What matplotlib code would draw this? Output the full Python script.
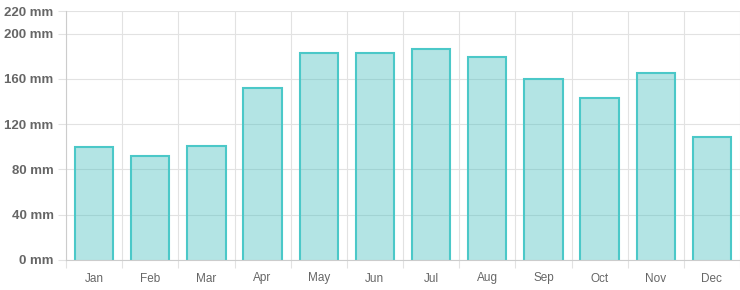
import numpy as np
import matplotlib.pyplot as plt

months = ['Jan', 'Feb', 'Mar', 'Apr', 'May', 'Jun',
          'Jul', 'Aug', 'Sep', 'Oct', 'Nov', 'Dec']
rain_mm = [100, 92, 101, 152, 183, 183, 186.5, 179, 159.5, 143, 165, 108.5]
y_ticks = [0, 40, 80, 120, 160, 200, 220]

fill = (75 / 255, 192 / 255, 192 / 255, 0.42)
edge = '#4bc8c8'
grid = '#e2e2e2'
text = '#666666'

plt.rcParams['font.family'] = ['Liberation Sans', 'DejaVu Sans']

fig = plt.figure(figsize=(7.4, 2.9), dpi=100)
ax = fig.add_axes([66 / 740, 30 / 290, 674 / 740, 249 / 290])

x = np.arange(len(months))
w = 0.68
ax.bar(x, rain_mm, width=w, color=fill, linewidth=0, zorder=2)
for xi, v in zip(x, rain_mm):
    ax.plot([xi - w / 2, xi - w / 2, xi + w / 2, xi + w / 2], [0, v, v, 0],
            color=edge, lw=1.5, solid_joinstyle='miter', zorder=3)

ax.set_xlim(-0.5, len(months) - 0.5)
ax.set_ylim(0, 220)

ax.set_yticks(y_ticks)
ax.set_yticklabels([f'{t} mm' for t in y_ticks], fontsize=9.5,
                   fontweight='bold', color=text)
ax.set_xticks(x)
ax.set_xticklabels(months, fontsize=8.5, color=text)
ax.set_xticks(np.arange(len(months) + 1) - 0.5, minor=True)

ax.tick_params(axis='x', which='major', length=0, pad=9)
ax.tick_params(axis='x', which='minor', length=6, color=grid, width=0.8)
ax.tick_params(axis='y', length=6, color=grid, width=0.8, pad=3)

ax.grid(True, axis='y', color=grid, lw=0.8, zorder=0)
ax.grid(True, axis='x', which='minor', color=grid, lw=0.8, zorder=0)

for s in ['top', 'right']:
    ax.spines[s].set_visible(False)
ax.spines['left'].set_color('#cccccc')
ax.spines['bottom'].set_color('#cccccc')
ax.spines['left'].set_linewidth(0.8)
ax.spines['bottom'].set_linewidth(0.8)
ax.spines['bottom'].set_zorder(4)

fig.savefig('out.png', dpi=100)
